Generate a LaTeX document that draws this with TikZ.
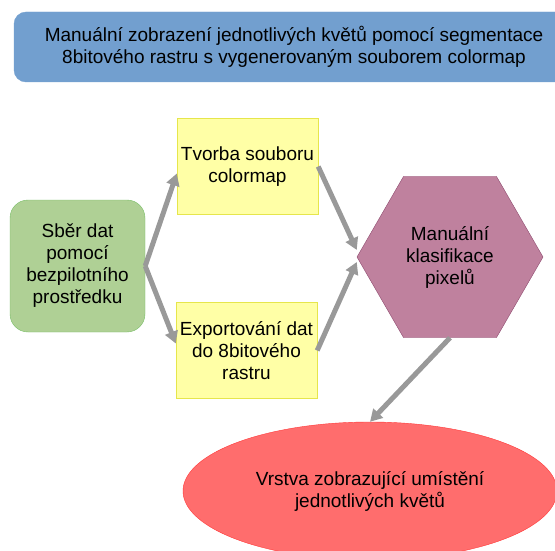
\documentclass[tikz,border=0pt]{standalone}
\usepackage{fontspec}
\setmainfont{Liberation Sans}
\usetikzlibrary{shapes.geometric,arrows.meta}

\definecolor{titleblue}{HTML}{729FCF}
\definecolor{boxgreen}{HTML}{AFD095}
\definecolor{linegreen}{HTML}{77BC65}
\definecolor{boxyellow}{HTML}{FFFFA6}
\definecolor{lineyellow}{HTML}{E6E64C}
\definecolor{hexpurple}{HTML}{BF819E}
\definecolor{linepurple}{HTML}{8E4A6E}
\definecolor{ellred}{HTML}{FF6D6D}
\definecolor{linered}{HTML}{FF3838}

\begin{document}
\begin{tikzpicture}[x=1pt,y=-1pt,
  txt/.style={font=\fontsize{19}{22}\selectfont,align=center,text=black},
  stepbox/.style={txt,draw=lineyellow,fill=boxyellow,minimum width=141pt,minimum height=96pt,inner sep=0pt},
  flow/.style={draw=black!40,line width=5pt,-{Triangle[length=12pt,width=13pt]}}]
\path[use as bounding box,clip] (0,0) rectangle (555,551);
\def\gap{7pt}

% title
\node[txt,draw=titleblue,fill=titleblue,rounded corners=12pt,minimum width=560pt,minimum height=70pt] (title) at (294,47) {Manuální zobrazení jednotlivých květů pomocí segmentace\\8bitového rastru s vygenerovaným souborem colormap};

% steps
\node[txt,draw=linegreen,fill=boxgreen,rounded corners=18pt,minimum width=135pt,minimum height=132pt] (sber) at (77.5,266) {Sběr dat\\pomocí\\bezpilotního\\prostředku};
\node[stepbox] (colormap) at (247.5,166.5) {Tvorba souboru\\colormap};
\node[stepbox] (export) at (246.5,350.5) {Exportování dat\\do 8bitového\\rastru};
\node[txt,regular polygon,regular polygon sides=6,draw=linepurple,fill=hexpurple,minimum size=186pt,inner sep=0pt] (klas) at (450,257) {Manuální\\klasifikace\\pixelů};
\node[txt,ellipse,draw=linered,fill=ellred,minimum width=374pt,minimum height=138pt] (vrstva) at (370,491) {Vrstva zobrazující umístění\\jednotlivých květů};

% connectors
\draw[flow] (sber.east) -- ([yshift=-\gap]colormap.west);
\draw[flow] (sber.east) -- ([yshift=\gap]export.west);
\draw[flow] (colormap.east) -- ([yshift=\gap]klas.west);
\draw[flow] (export.east) -- ([yshift=-5pt]klas.west);
\draw[flow] (klas.south) -- (vrstva.north);
\end{tikzpicture}
\end{document}
